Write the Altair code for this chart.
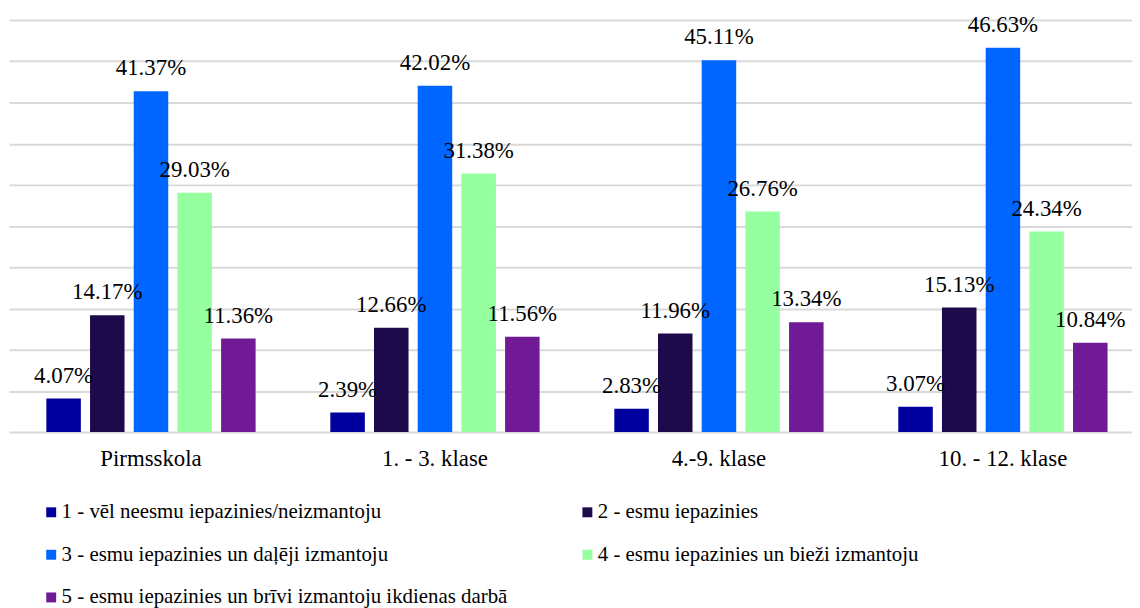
import altair as alt
import pandas as pd

categories = ["Pirmsskola", "1. - 3. klase", "4.-9. klase", "10. - 12. klase"]
series = [
    "1 - vēl neesmu iepazinies/neizmantoju",
    "2 - esmu iepazinies",
    "3 - esmu iepazinies un daļēji izmantoju",
    "4 - esmu iepazinies un bieži izmantoju",
    "5 - esmu iepazinies un brīvi izmantoju ikdienas darbā",
]
s1 = [4.07, 2.39, 2.83, 3.07]
s2 = [14.17, 12.66, 11.96, 15.13]
s3 = [41.37, 42.02, 45.11, 46.63]
s4 = [29.03, 31.38, 26.76, 24.34]
s5 = [11.36, 11.56, 13.34, 10.84]
colors = ["#00009E", "#1C0A4B", "#0066FF", "#96FFA0", "#701A96"]
grid_values = [0, 5, 10, 15, 20, 25, 30, 35, 40, 45, 50]

rows = []
for name, vals in zip(series, [s1, s2, s3, s4, s5]):
    for cat, v in zip(categories, vals):
        rows.append({"category": cat, "series": name, "value": v})
df = pd.DataFrame(rows)

FONT = "Liberation Serif"

base = alt.Chart(df).encode(
    x=alt.X("category:N", sort=categories, title=None,
            scale=alt.Scale(paddingInner=0, paddingOuter=0, range=[0, 1144]),
            axis=alt.Axis(labelAngle=0, domain=False, ticks=False, tickSize=0,
                          labelPadding=16, labelFont=FONT, labelFontSize=23,
                          labelColor="#000000", labelLimit=0)),
    xOffset=alt.XOffset("series:N", sort=series,
                        scale=alt.Scale(paddingInner=0.21, paddingOuter=0.855)),
    y=alt.Y("value:Q", title=None,
            scale=alt.Scale(domain=[0, 50], nice=False),
            axis=alt.Axis(values=grid_values, labels=False, ticks=False, domain=False,
                          grid=True, gridColor="#d9d9d9", gridWidth=2)),
)

bars = base.mark_bar().encode(
    color=alt.Color("series:N", sort=series,
                    scale=alt.Scale(domain=series, range=colors),
                    legend=alt.Legend(title=None, orient="none", legendX=32, legendY=485,
                                      direction="horizontal",
                                      columns=2, columnPadding=69, rowPadding=21,
                                      symbolType="square", symbolSize=100,
                                      symbolStrokeWidth=0, labelFont=FONT,
                                      labelFontSize=21, labelColor="#000000",
                                      labelOffset=0, labelLimit=1000)),
)

labels = base.transform_calculate(
    label="format(datum.value, '.2f') + '%'"
).mark_text(font=FONT, fontSize=23, color="#000000", baseline="alphabetic",
            align="center", dy=-16).encode(text="label:N")

chart = (bars + labels).properties(
    width=1131, height=415,
    autosize=alt.AutoSizeParams(type="none"),
    padding={"left": 1, "top": 10, "right": 0, "bottom": 175},
).configure(font=FONT).configure_view(stroke=None).configure_text(
    font=FONT
).configure_legend(labelFont=FONT)

chart.save("out.html", embed_options={"renderer": "svg", "actions": False})
